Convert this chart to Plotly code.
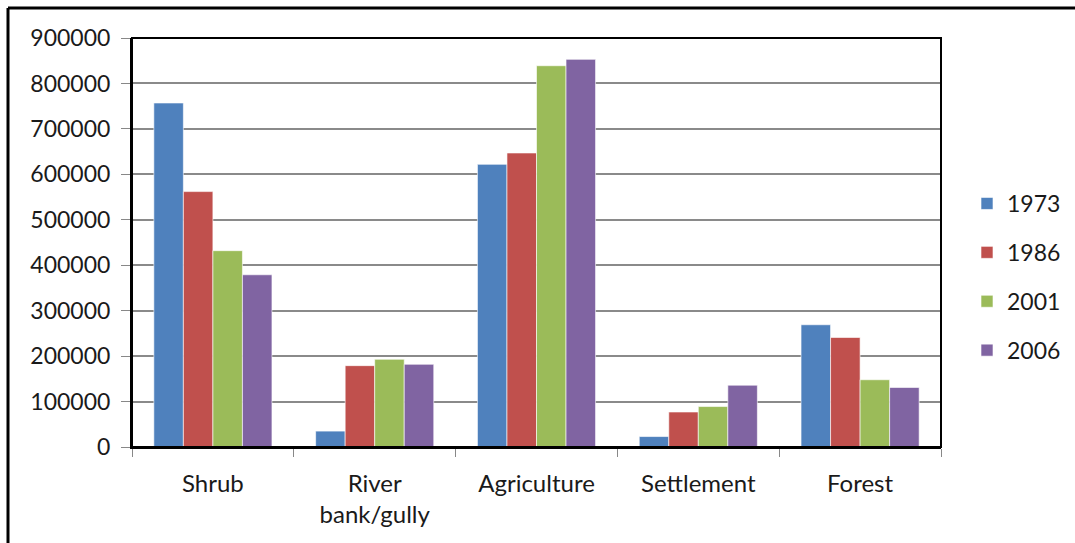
import plotly.graph_objects as go

categories = ["Shrub", "River<br>bank/gully", "Agriculture", "Settlement", "Forest"]
years = ["1973", "1986", "2001", "2006"]
v1973 = [757000, 35000, 622000, 23000, 269000]
v1986 = [562000, 179000, 647000, 77000, 241000]
v2001 = [432000, 193000, 839000, 89000, 148000]
v2006 = [379000, 182000, 853000, 136000, 131000]
colors = ["#4F81BD", "#C0504D", "#9BBB59", "#8064A2"]
series = [v1973, v1986, v2001, v2006]

W, H = 1075, 543
L, R, T, B = 132, 941, 38, 447

fig = go.Figure()
for name, vals, c in zip(years, series, colors):
    fig.add_trace(go.Bar(
        x=categories, y=vals, name=name, legendgroup=name,
        marker=dict(color=c, line=dict(color="rgba(255,255,255,0.6)", width=1)),
    ))

font = "Lato, 'Open Sans', sans-serif"

def px_x(px):
    return (px - L) / (R - L)

def px_y(py):
    return (B - py) / (B - T)

shapes = [
    dict(type="line", xref="paper", yref="paper", x0=px_x(8), x1=px_x(1080), y0=px_y(8), y1=px_y(8),
         line=dict(color="black", width=3)),
    dict(type="line", xref="paper", yref="paper", x0=px_x(8), x1=px_x(8), y0=px_y(8), y1=px_y(560),
         line=dict(color="black", width=3)),
    dict(type="rect", xref="paper", yref="paper", x0=0, x1=1, y0=0, y1=1,
         line=dict(color="black", width=2), layer="above"),
]

fig.update_layout(
    width=W, height=H,
    margin=dict(l=L, r=W - R, t=T, b=H - B, autoexpand=False),
    paper_bgcolor="white", plot_bgcolor="white",
    barmode="group", bargap=0.27, bargroupgap=0,
    font=dict(family=font, size=23, color="#1a1a1a"),
    showlegend=True,
    legend=dict(x=px_x(967), xanchor="left", y=px_y(277), yanchor="middle",
                font=dict(size=23), tracegroupgap=16, itemwidth=30,
                bgcolor="rgba(0,0,0,0)"),
    shapes=shapes,
)
fig.update_xaxes(
    type="category", tickson="boundaries", ticks="outside", ticklen=8, tickcolor="#888",
    showline=True, linecolor="black", linewidth=2, showgrid=False,
    tickfont=dict(size=24), ticklabelstandoff=14,
)
fig.update_yaxes(
    range=[0, 900000], dtick=100000, tickformat="d", ticks="outside", ticklen=9, tickcolor="#888",
    showline=True, linecolor="black", linewidth=2,
    showgrid=True, gridcolor="#8a8a8a", gridwidth=1.5, zeroline=False,
    tickfont=dict(size=23), ticklabelstandoff=6,
)

fig.write_html("out.html")
